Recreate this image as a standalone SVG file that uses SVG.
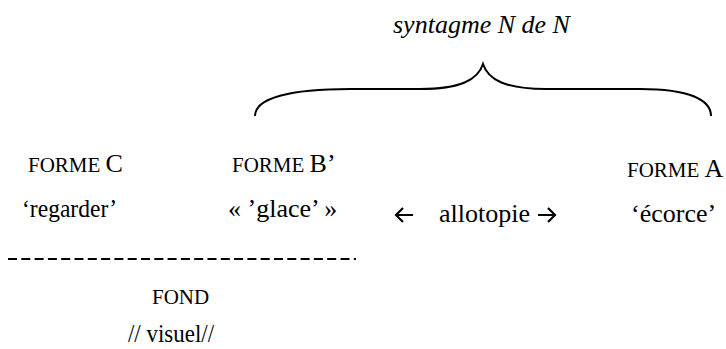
<svg xmlns="http://www.w3.org/2000/svg" width="726" height="349" viewBox="0 0 726 349">
  <style>
    text { font-family: "Liberation Serif", "Times New Roman", serif; fill: #000; }
    .sc { font-size: 21px; }
    .big { font-size: 26px; }
    .it { font-size: 26px; font-style: italic; }
    .arrow { fill: none; stroke: #000; stroke-width: 2.2; stroke-linecap: butt; stroke-linejoin: miter; }
  </style>
  <rect width="726" height="349" fill="#fff"/>

  <g id="syntagme">
    <text class="it" x="393" y="33">syntagme N de N</text>
  </g>

  <g id="connectors" fill="none" stroke="#000" stroke-width="2">
    <path d="M255,116 C255,98 290,89 350,89 L420,89 C460,89 478,80 483,64 C488,80 506,89 546,89 L640,89 C690,89 711,100 711,116"/>
    <line x1="8" y1="259" x2="356" y2="259" stroke-dasharray="9 4.3"/>
  </g>

  <g id="forme-c">
    <text x="28" y="172"><tspan class="sc">FORME </tspan><tspan class="big">C</tspan></text>
    <text class="big" x="22" y="217" textLength="95" lengthAdjust="spacingAndGlyphs">‘regarder’</text>
  </g>

  <g id="forme-b">
    <text x="232" y="172"><tspan class="sc">FORME </tspan><tspan class="big">B’</tspan></text>
    <text class="big" x="228" y="217">« ’glace’ »</text>
  </g>

  <g id="allotopie">
    <path class="arrow" d="M396,215 H413 M403,208 L396,215 L403,222"/>
    <text class="big" x="439" y="222">allotopie</text>
    <path class="arrow" d="M538,215 H555 M548,208 L555,215 L548,222"/>
  </g>

  <g id="forme-a">
    <text x="627" y="177"><tspan class="sc">FORME </tspan><tspan class="big">A</tspan></text>
    <text class="big" x="631" y="222">‘écorce’</text>
  </g>

  <g id="fond">
    <text class="sc" x="152" y="304">FOND</text>
    <text class="big" x="128" y="342" textLength="86" lengthAdjust="spacingAndGlyphs">// visuel//</text>
  </g>
</svg>
